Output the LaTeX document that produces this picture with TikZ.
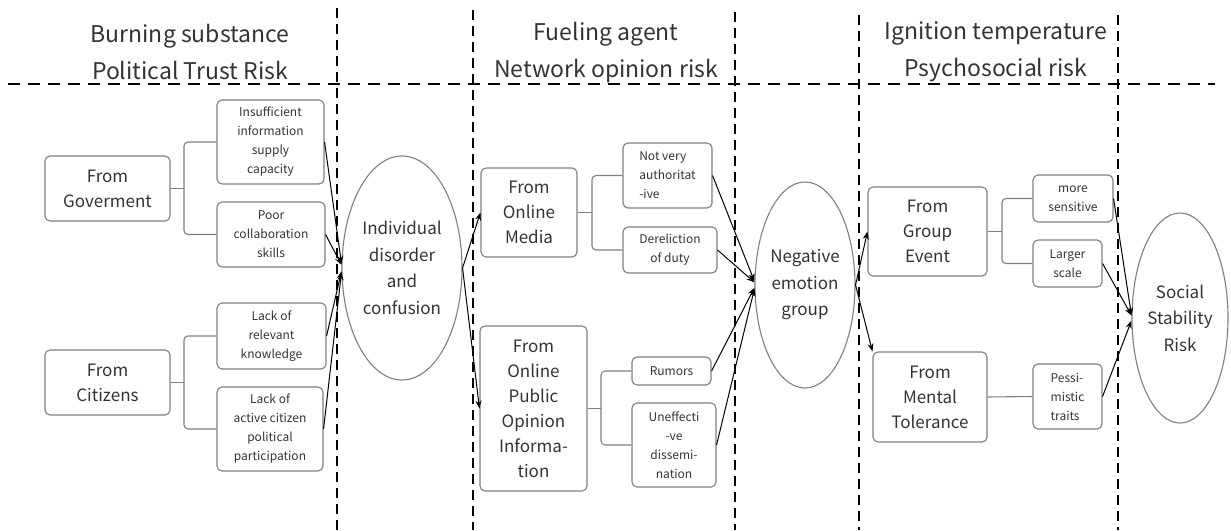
\documentclass[tikz,border=0pt]{standalone}
\usepackage{fontspec}
\setmainfont{Noto Sans CJK SC}
\usetikzlibrary{arrows.meta,shapes.geometric}
\definecolor{boxgray}{HTML}{7F7F7F}
\definecolor{txt}{HTML}{333333}
\tikzset{
 box/.style={draw=boxgray, line width=1.1pt, rounded corners=5pt, inner sep=0pt, align=center, text=txt},
 bigbox/.style={box, font=\fontsize{17}{25}\selectfont},
 smallbox/.style={box, font=\fontsize{12}{19}\selectfont},
 oval/.style={ellipse, draw=boxgray, line width=1.1pt, inner sep=0pt, align=center, text=txt, font=\fontsize{17}{26.5}\selectfont},
 head/.style={align=center, text=txt, font=\fontsize{23}{37}\selectfont},
 branch/.style={draw=boxgray, line width=1.1pt, rounded corners=4pt},
 arr/.style={draw=black, line width=1pt, -{Stealth[length=8pt,width=6pt]}},
 sep/.style={draw=black, line width=1.3pt, dash pattern=on 10pt off 6pt},
 hsep/.style={draw=black, line width=1.3pt, dash pattern=on 12pt off 8pt},
}
\begin{document}
\begin{tikzpicture}[x=1pt,y=-1pt]
\useasboundingbox (0,0) rectangle (1231,530);
% separators
\coordinate (h1) at (8,84); \coordinate (h2) at (1215,84);
\draw[hsep] (h1) -- (h2);
\coordinate (v1a) at (337,8);  \coordinate (v1b) at (337,530);
\coordinate (v2a) at (473,10); \coordinate (v2b) at (473,530);
\coordinate (v3a) at (735,12); \coordinate (v3b) at (735,530);
\coordinate (v4a) at (859,15); \coordinate (v4b) at (859,530);
\coordinate (v5a) at (1118,15);\coordinate (v5b) at (1118,530);
\draw[sep] (v1a) -- (v1b);
\draw[sep] (v2a) -- (v2b);
\draw[sep] (v3a) -- (v3b);
\draw[sep] (v4a) -- (v4b);
\draw[sep] (v5a) -- (v5b);
% headers
\node[head] (hd1) at (190,52) {Burning substance\\Political Trust Risk};
\node[head] (hd2) at (606,52) {Fueling agent\\Network opinion risk};
\node[head] (hd3) at (996,52) {Ignition temperature\\Psychosocial risk};
% column 1
\node[bigbox, minimum width=125, minimum height=65] (gov) at (107.5,188.5) {From\\Goverment};
\node[bigbox, minimum width=125, minimum height=65] (cit) at (107.5,382.5) {From\\Citizens};
\node[smallbox, minimum width=107, minimum height=84] (insuff) at (270.5,142) {Insufficient\\information\\supply\\capacity};
\node[smallbox, minimum width=108, minimum height=65] (poor) at (271,234.5) {Poor\\collaboration\\skills};
\node[smallbox, minimum width=109, minimum height=66] (lrel) at (271.5,336) {Lack of\\relevant\\knowledge};
\node[smallbox, minimum width=106, minimum height=84] (lact) at (270,429) {Lack of\\active citizen\\political\\participation};
\node[oval, minimum width=120, minimum height=224] (ind) at (402,268) {Individual\\disorder\\and\\confusion};
% column 2
\node[bigbox, minimum width=96, minimum height=89] (media) at (529,212.5) {From\\Online\\Media};
\node[bigbox, minimum width=107, minimum height=165] (opoi) at (533.5,408.5) {From\\Online\\Public\\Opinion\\Informa-\\tion};
\node[smallbox, align=left, minimum width=89, minimum height=65] (notvery) at (667.5,175.5) {Not very\\authoritat\\-ive};
\node[smallbox, minimum width=94, minimum height=46] (derel) at (670,250) {Dereliction\\of duty};
\node[smallbox, minimum width=79, minimum height=28] (rum) at (671.5,371) {Rumors};
\node[smallbox, minimum width=84, minimum height=84] (uneff) at (674,445) {Uneffecti\\-ve\\dissemi-\\nation};
\node[oval, minimum width=100, minimum height=206] (neg) at (805,285) {Negative\\emotion\\group};
% column 3
\node[bigbox, minimum width=119, minimum height=89] (grp) at (927.5,231.5) {From\\Group\\Event};
\node[bigbox, minimum width=114, minimum height=90] (ment) at (930,397) {From\\Mental\\Tolerance};
\node[smallbox, minimum width=80, minimum height=47] (sens) at (1073,198.5) {more\\sensitive};
\node[smallbox, minimum width=69, minimum height=47] (larg) at (1067.5,263.5) {Larger\\scale};
\node[smallbox, align=left, minimum width=69, minimum height=65] (pess) at (1067.5,396.5) {Pessi-\\mistic\\traits};
\node[oval, minimum width=96, minimum height=210] (soc) at (1180,318) {Social\\Stability\\Risk};
% branches
\coordinate (gj) at (184,188.5);
\draw[branch] (gov.east) -- (gj);
\draw[branch] (insuff.west) -| (gj) |- (poor.west);
\coordinate (cj) at (184,382.5);
\draw[branch] (cit.east) -- (cj);
\draw[branch] (lrel.west) -| (cj) |- (lact.west);
\coordinate (mj) at (592,212.5);
\draw[branch] (media.east) -- (mj);
\draw[branch] (notvery.west) -| (mj) |- (derel.west);
\coordinate (oj) at (601,408.5);
\draw[branch] (opoi.east) -- (oj);
\draw[branch] (rum.west) -| (oj) |- (uneff.west);
\coordinate (ej) at (1002,231.5);
\draw[branch] (grp.east) -- (ej);
\draw[branch] (sens.west) -| (ej) |- (larg.west);
\draw[branch] (ment.east) -- (pess.west);
% arrows
\draw[arr] (insuff.east) -- (ind.176);
\draw[arr] (poor.east) -- (ind.177);
\draw[arr] (lrel.east) -- (ind.183);
\draw[arr] (lact.east) -- (ind.184);
\draw[arr] (ind.east) -- (media.west);
\draw[arr] (ind.east) -- (opoi.west);
\draw[arr] (notvery.east) -- (neg.176);
\draw[arr] (derel.east) -- (neg.177);
\draw[arr] (rum.east) -- (neg.183);
\draw[arr] (uneff.east) -- (neg.184);
\draw[arr] (neg.east) -- (grp.west);
\draw[arr] (neg.east) -- (ment.north west);
\draw[arr] (sens.east) -- (soc.177);
\draw[arr] (larg.east) -- (soc.177);
\draw[arr] (pess.east) -- (soc.183);
\end{tikzpicture}
\end{document}
